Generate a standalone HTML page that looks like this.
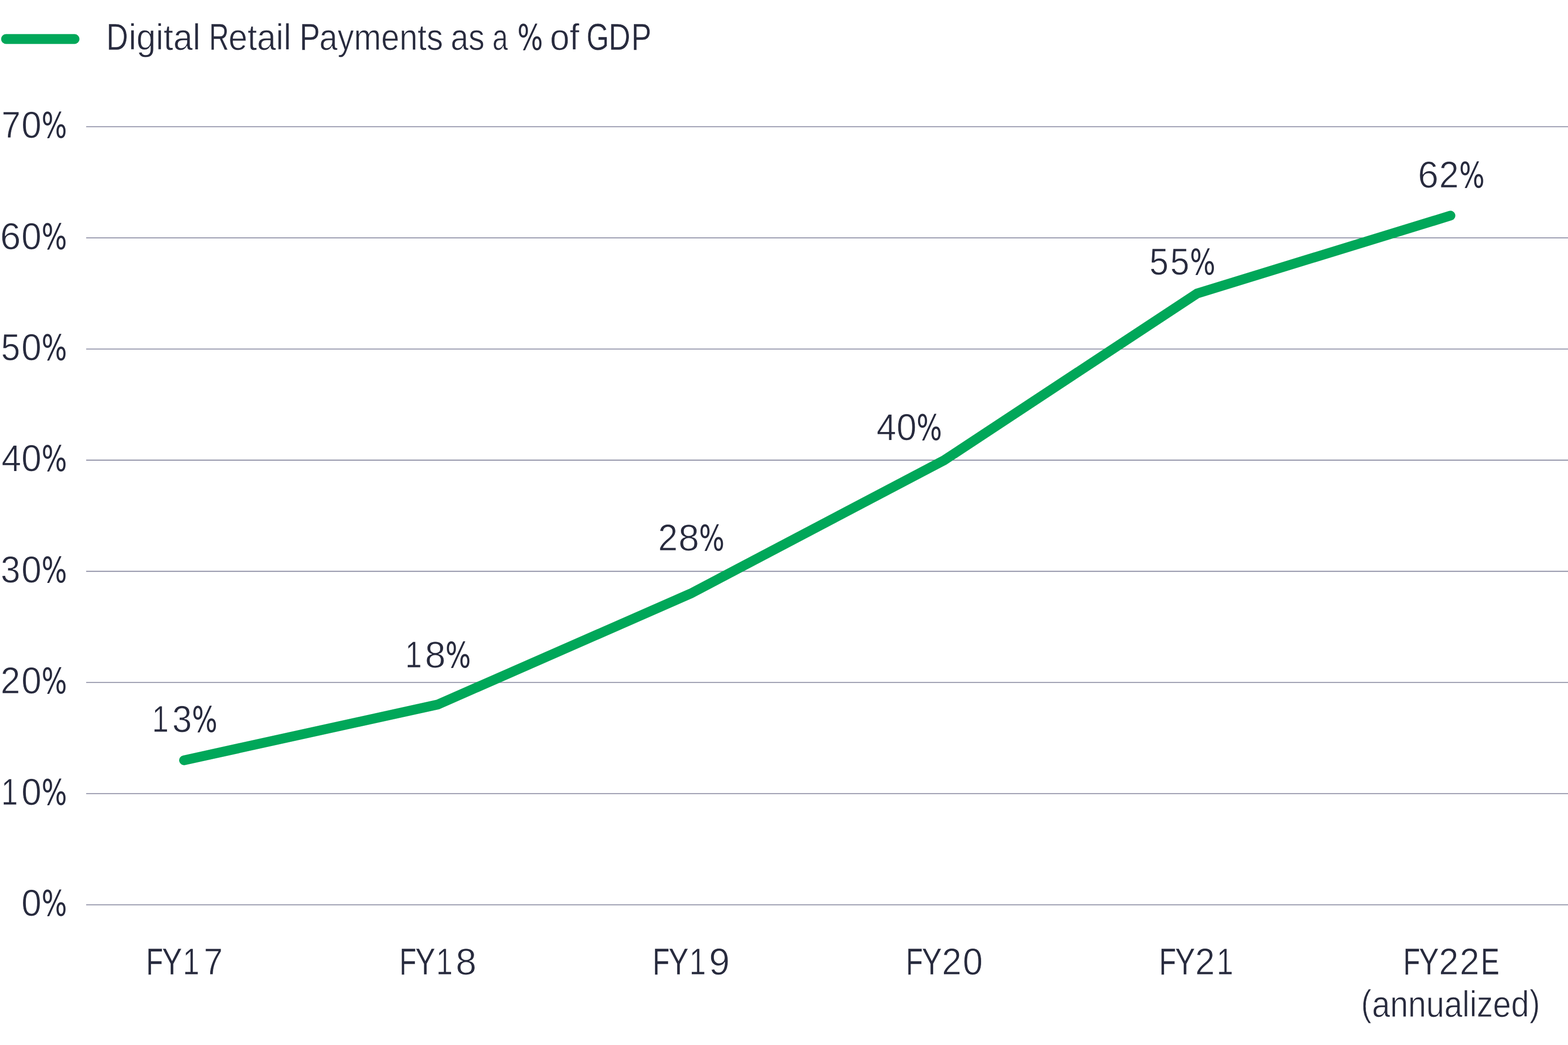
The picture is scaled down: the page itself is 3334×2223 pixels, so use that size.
<!DOCTYPE html>
<html lang="en">
<head>
<meta charset="utf-8">
<title>Digital Retail Payments as a % of GDP</title>
<style>
  html, body { margin: 0; padding: 0; background: #ffffff; }
  body { width: 3334px; height: 2223px; overflow: hidden; }
  svg { display: block; }
  text {
    font-family: "Liberation Sans", sans-serif;
    font-size: 80.4px;
    font-kerning: none;
    fill: #282b3e;
    stroke: #ffffff;
    stroke-width: 1;
    white-space: pre;
  }
  .lc { font-size: 77.5px; }
  .uc { stroke-width: 0.4; }
  .pc { font-family: "DejaVu Sans Condensed", "Liberation Sans", sans-serif; font-size: 75.4px; stroke: none; }
  .grid line { stroke: #8e8fa5; stroke-width: 2.08; }
  .series { fill: none; stroke: #00a759; stroke-width: 20.8; stroke-linecap: round; stroke-linejoin: miter; }
</style>
</head>
<body>
<svg width="3334" height="2223" viewBox="0 0 3334 2223">
  <rect width="3334" height="2223" fill="#ffffff"/>

  <g class="legend">
    <line class="series" x1="12.7" y1="83" x2="158.6" y2="83"/>
    <text y="106"><tspan class="uc" x="226.15" textLength="46.21" lengthAdjust="spacingAndGlyphs">D</tspan><tspan class="lc" x="273.43" textLength="152.84" lengthAdjust="spacingAndGlyphs">igital</tspan> <tspan class="uc" x="444.73" textLength="41.96" lengthAdjust="spacingAndGlyphs">R</tspan><tspan class="lc" x="485.81" textLength="133.35" lengthAdjust="spacingAndGlyphs">etail</tspan> <tspan class="uc" x="636.95" textLength="43.49" lengthAdjust="spacingAndGlyphs">P</tspan><tspan class="lc" x="679.04" textLength="262.97" lengthAdjust="spacingAndGlyphs">ayments</tspan> <tspan class="lc" x="958.2" textLength="72.06" lengthAdjust="spacingAndGlyphs">as</tspan> <tspan class="lc" x="1046.99" textLength="32.91" lengthAdjust="spacingAndGlyphs">a</tspan> <tspan class="pc" x="1100.06" textLength="54.49" lengthAdjust="spacingAndGlyphs">%</tspan> <tspan class="lc" x="1169.35" textLength="62.54" lengthAdjust="spacingAndGlyphs">of</tspan> <tspan class="uc" x="1246.9" textLength="47.9" lengthAdjust="spacingAndGlyphs">G</tspan><tspan class="uc" x="1294.12" textLength="46.45" lengthAdjust="spacingAndGlyphs">D</tspan><tspan class="uc" x="1342.58" textLength="42.48" lengthAdjust="spacingAndGlyphs">P</tspan></text>
  </g>
  <g class="grid">
    <line x1="183.2" y1="269.52" x2="3334" y2="269.52"/>
    <line x1="183.2" y1="505.97" x2="3334" y2="505.97"/>
    <line x1="183.2" y1="742.43" x2="3334" y2="742.43"/>
    <line x1="183.2" y1="978.88" x2="3334" y2="978.88"/>
    <line x1="183.2" y1="1215.34" x2="3334" y2="1215.34"/>
    <line x1="183.2" y1="1451.79" x2="3334" y2="1451.79"/>
    <line x1="183.2" y1="1688.25" x2="3334" y2="1688.25"/>
    <line x1="183.2" y1="1924.7" x2="3334" y2="1924.7"/>
  </g>
  <g class="y-axis">
    <text y="293"><tspan x="3.17" textLength="40.5" lengthAdjust="spacingAndGlyphs">7</tspan><tspan x="45.6" textLength="42.7" lengthAdjust="spacingAndGlyphs">0</tspan><tspan class="pc" x="88.17" textLength="54.26" lengthAdjust="spacingAndGlyphs">%</tspan></text>
    <text y="530"><tspan x="0.29" textLength="43.87" lengthAdjust="spacingAndGlyphs">6</tspan><tspan x="45.6" textLength="42.7" lengthAdjust="spacingAndGlyphs">0</tspan><tspan class="pc" x="88.17" textLength="54.26" lengthAdjust="spacingAndGlyphs">%</tspan></text>
    <text y="766"><tspan x="2.28" textLength="40.59" lengthAdjust="spacingAndGlyphs">5</tspan><tspan x="45.6" textLength="42.7" lengthAdjust="spacingAndGlyphs">0</tspan><tspan class="pc" x="88.17" textLength="54.26" lengthAdjust="spacingAndGlyphs">%</tspan></text>
    <text y="1002"><tspan x="3.27" textLength="41.83" lengthAdjust="spacingAndGlyphs">4</tspan><tspan x="45.6" textLength="42.7" lengthAdjust="spacingAndGlyphs">0</tspan><tspan class="pc" x="88.17" textLength="54.26" lengthAdjust="spacingAndGlyphs">%</tspan></text>
    <text y="1239"><tspan x="1.45" textLength="41.64" lengthAdjust="spacingAndGlyphs">3</tspan><tspan x="45.6" textLength="42.7" lengthAdjust="spacingAndGlyphs">0</tspan><tspan class="pc" x="88.17" textLength="54.26" lengthAdjust="spacingAndGlyphs">%</tspan></text>
    <text y="1475"><tspan x="1.32" textLength="41.75" lengthAdjust="spacingAndGlyphs">2</tspan><tspan x="45.6" textLength="42.7" lengthAdjust="spacingAndGlyphs">0</tspan><tspan class="pc" x="88.17" textLength="54.26" lengthAdjust="spacingAndGlyphs">%</tspan></text>
    <text y="1712"><tspan x="2.76" textLength="35.34" lengthAdjust="spacingAndGlyphs">1</tspan><tspan x="45.6" textLength="42.7" lengthAdjust="spacingAndGlyphs">0</tspan><tspan class="pc" x="88.17" textLength="54.26" lengthAdjust="spacingAndGlyphs">%</tspan></text>
    <text y="1948"><tspan x="45.6" textLength="42.7" lengthAdjust="spacingAndGlyphs">0</tspan><tspan class="pc" x="88.17" textLength="54.26" lengthAdjust="spacingAndGlyphs">%</tspan></text>
  </g>
  <polyline class="series" points="391.3,1617.31 930.75,1498.78 1469.2,1262.33 2007.65,978.98 2545.5,624.2 3084.05,458.68"/>
  <g class="value-labels">
    <text y="1557"><tspan x="323.36" textLength="35.34" lengthAdjust="spacingAndGlyphs">1</tspan><tspan x="366.25" textLength="41.64" lengthAdjust="spacingAndGlyphs">3</tspan><tspan class="pc" x="407.97" textLength="54.26" lengthAdjust="spacingAndGlyphs">%</tspan></text>
    <text y="1420"><tspan x="861.66" textLength="35.34" lengthAdjust="spacingAndGlyphs">1</tspan><tspan x="903.45" textLength="44.09" lengthAdjust="spacingAndGlyphs">8</tspan><tspan class="pc" x="947.07" textLength="54.26" lengthAdjust="spacingAndGlyphs">%</tspan></text>
    <text y="1171"><tspan x="1399.32" textLength="41.75" lengthAdjust="spacingAndGlyphs">2</tspan><tspan x="1442.55" textLength="44.09" lengthAdjust="spacingAndGlyphs">8</tspan><tspan class="pc" x="1486.17" textLength="54.26" lengthAdjust="spacingAndGlyphs">%</tspan></text>
    <text y="936"><tspan x="1863.87" textLength="41.83" lengthAdjust="spacingAndGlyphs">4</tspan><tspan x="1906.2" textLength="42.7" lengthAdjust="spacingAndGlyphs">0</tspan><tspan class="pc" x="1948.77" textLength="54.26" lengthAdjust="spacingAndGlyphs">%</tspan></text>
    <text y="584"><tspan x="2444.08" textLength="40.59" lengthAdjust="spacingAndGlyphs">5</tspan><tspan x="2488.28" textLength="40.59" lengthAdjust="spacingAndGlyphs">5</tspan><tspan class="pc" x="2529.97" textLength="54.26" lengthAdjust="spacingAndGlyphs">%</tspan></text>
    <text y="399"><tspan x="3014.69" textLength="43.87" lengthAdjust="spacingAndGlyphs">6</tspan><tspan x="3059.92" textLength="41.75" lengthAdjust="spacingAndGlyphs">2</tspan><tspan class="pc" x="3102.57" textLength="54.26" lengthAdjust="spacingAndGlyphs">%</tspan></text>
  </g>
  <g class="x-axis">
    <text y="2073"><tspan class="uc" x="310.75" textLength="36.12" lengthAdjust="spacingAndGlyphs">F</tspan><tspan class="uc" x="344.4" textLength="42.61" lengthAdjust="spacingAndGlyphs">Y</tspan><tspan x="388.76" textLength="35.34" lengthAdjust="spacingAndGlyphs">1</tspan><tspan x="433.37" textLength="40.5" lengthAdjust="spacingAndGlyphs">7</tspan></text>
    <text y="2073"><tspan class="uc" x="849.25" textLength="36.12" lengthAdjust="spacingAndGlyphs">F</tspan><tspan class="uc" x="882.9" textLength="42.61" lengthAdjust="spacingAndGlyphs">Y</tspan><tspan x="927.26" textLength="35.34" lengthAdjust="spacingAndGlyphs">1</tspan><tspan x="969.05" textLength="44.09" lengthAdjust="spacingAndGlyphs">8</tspan></text>
    <text y="2073"><tspan class="uc" x="1387.75" textLength="36.12" lengthAdjust="spacingAndGlyphs">F</tspan><tspan class="uc" x="1421.4" textLength="42.61" lengthAdjust="spacingAndGlyphs">Y</tspan><tspan x="1465.76" textLength="35.34" lengthAdjust="spacingAndGlyphs">1</tspan><tspan x="1507.38" textLength="44.19" lengthAdjust="spacingAndGlyphs">9</tspan></text>
    <text y="2073"><tspan class="uc" x="1926.25" textLength="36.12" lengthAdjust="spacingAndGlyphs">F</tspan><tspan class="uc" x="1959.9" textLength="42.61" lengthAdjust="spacingAndGlyphs">Y</tspan><tspan x="2002.82" textLength="41.75" lengthAdjust="spacingAndGlyphs">2</tspan><tspan x="2047.1" textLength="42.7" lengthAdjust="spacingAndGlyphs">0</tspan></text>
    <text y="2073"><tspan class="uc" x="2464.75" textLength="36.12" lengthAdjust="spacingAndGlyphs">F</tspan><tspan class="uc" x="2498.4" textLength="42.61" lengthAdjust="spacingAndGlyphs">Y</tspan><tspan x="2541.32" textLength="41.75" lengthAdjust="spacingAndGlyphs">2</tspan><tspan x="2586.96" textLength="35.34" lengthAdjust="spacingAndGlyphs">1</tspan></text>
    <text y="2073"><tspan class="uc" x="2983.67" textLength="35.99" lengthAdjust="spacingAndGlyphs">F</tspan><tspan class="uc" x="3016.9" textLength="42.5" lengthAdjust="spacingAndGlyphs">Y</tspan><tspan x="3059.62" textLength="41.75" lengthAdjust="spacingAndGlyphs">2</tspan><tspan x="3103.82" textLength="41.75" lengthAdjust="spacingAndGlyphs">2</tspan><tspan class="uc" x="3148.74" textLength="39.5" lengthAdjust="spacingAndGlyphs">E</tspan></text>
    <text y="2161"><tspan class="lc" x="2894.23" textLength="21.85" lengthAdjust="spacingAndGlyphs">(</tspan><tspan class="lc" x="2917.27" dy="2" textLength="334.09" lengthAdjust="spacingAndGlyphs">annualized</tspan><tspan class="lc" x="3252.31" dy="-2" textLength="22.11" lengthAdjust="spacingAndGlyphs">)</tspan></text>
  </g>
</svg>
</body>
</html>
